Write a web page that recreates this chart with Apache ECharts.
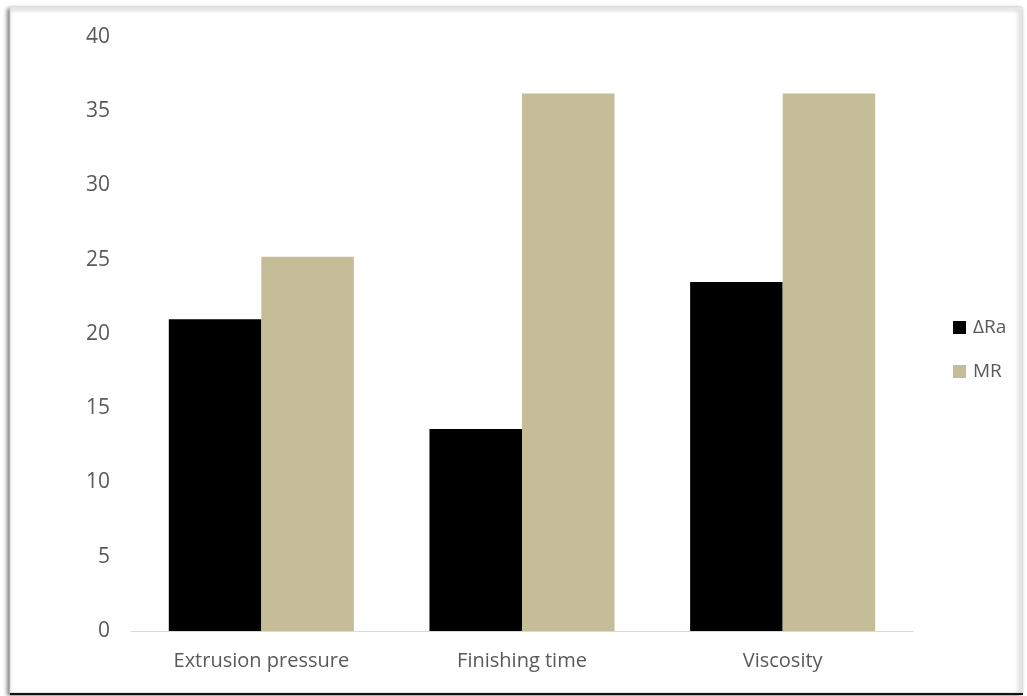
<!DOCTYPE html>
<html>
<head>
<meta charset="utf-8">
<style>
  html, body { margin: 0; padding: 0; background: #fff; }
  #chart { width: 1027px; height: 696px; }
</style>
<script src="https://cdn.jsdelivr.net/npm/echarts@6/dist/echarts.min.js"></script>
</head>
<body>
<div id="chart"></div>
<script>
// Factors compared by their ΔRa and MR contributions
const categories = ['Extrusion pressure', 'Finishing time', 'Viscosity'];
const deltaRa = [21.0, 13.6, 23.5];
const mr = [25.2, 36.2, 36.2];
const yTicks = { min: 0, max: 40, interval: 5 };

const FONT = '"Open Sans", "Noto Sans", sans-serif';
const TEXT = '#595959';

const chart = echarts.init(document.getElementById('chart'), null, { renderer: 'canvas' });

chart.setOption({
  animation: false,
  backgroundColor: '#fff',
  textStyle: { fontFamily: FONT },
  graphic: [
    {
      type: 'rect',
      z: -10,
      shape: { x: 10, y: 7, width: 1012, height: 686 },
      style: {
        fill: '#fff',
        stroke: '#d9d9d9',
        lineWidth: 1,
        shadowBlur: 4,
        shadowOffsetX: -2,
        shadowOffsetY: 2,
        shadowColor: 'rgba(0,0,0,0.55)'
      }
    },
    {
      type: 'line',
      z: -9,
      shape: { x1: 10, y1: 694, x2: 1023, y2: 694 },
      style: { stroke: '#111', lineWidth: 2 }
    }
  ],
  grid: { left: 131, right: 114, top: 37, bottom: 65, containLabel: false },
  legend: {
    orient: 'vertical',
    left: 953,
    top: 318,
    padding: 0,
    itemWidth: 13,
    itemHeight: 13,
    itemGap: 25,
    icon: 'rect',
    textStyle: { color: TEXT, fontSize: 19, fontFamily: FONT, padding: [0, 0, 0, 2] },
    data: ['ΔRa', 'MR']
  },
  xAxis: {
    type: 'category',
    data: categories,
    axisLine: { lineStyle: { color: '#d9d9d9', width: 1 } },
    axisTick: { show: false },
    axisLabel: { color: TEXT, fontSize: 20, fontFamily: FONT, margin: 20 }
  },
  yAxis: {
    type: 'value',
    min: yTicks.min,
    max: yTicks.max,
    interval: yTicks.interval,
    axisLine: { show: false },
    axisTick: { show: false },
    splitLine: { show: false },
    axisLabel: { color: TEXT, fontSize: 21, fontFamily: FONT, margin: 21 }
  },
  series: [
    {
      name: 'ΔRa',
      type: 'bar',
      data: deltaRa,
      barGap: '0%',
      barCategoryGap: '29%',
      itemStyle: { color: '#000000' }
    },
    {
      name: 'MR',
      type: 'bar',
      data: mr,
      barGap: '0%',
      barCategoryGap: '29%',
      itemStyle: { color: '#c4bd97' }
    }
  ]
});
</script>
</body>
</html>
